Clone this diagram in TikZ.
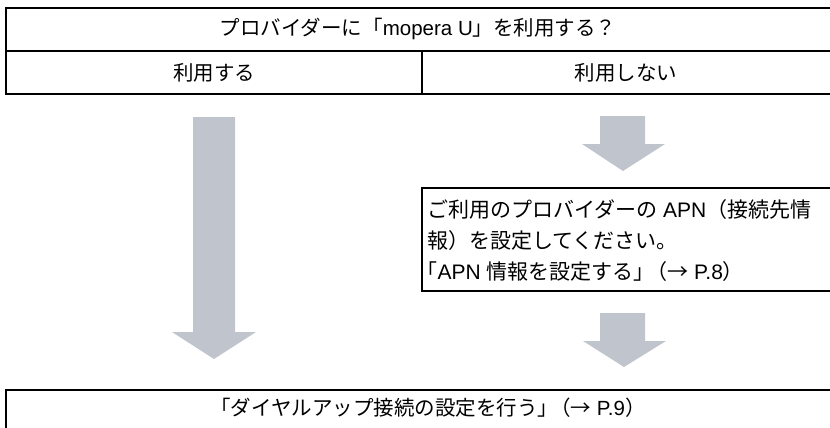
\documentclass[tikz,border=0pt]{standalone}
\usepackage{fontspec}
\setmainfont{Liberation Sans}
\newfontfamily\jpfont{Noto Sans CJK JP}
\definecolor{arrowgray}{RGB}{192,196,204}

\begin{document}
\begin{tikzpicture}[x=1pt, y=-1pt,
    frame/.style={line width=1.7pt},
    cell/.style={font=\fontsize{20.5}{24}\selectfont, inner sep=0pt}]
      \useasboundingbox (0, 0) rectangle (830, 428);

      % Block arrows
      \fill [arrowgray] (193, 117) -- (235, 117) -- (235, 332) -- (256, 332) -- (214, 359) -- (172, 332) -- (193, 332) -- cycle;
      \fill [arrowgray] (600, 116) -- (645, 116) -- (645, 144) -- (665, 144) -- (623, 171) -- (582, 144) -- (600, 144) -- cycle;
      \fill [arrowgray] (600, 313) -- (645, 313) -- (645, 341) -- (666, 341) -- (624, 367) -- (583, 341) -- (600, 341) -- cycle;

      % Table
      \draw [frame] (6, 8) rectangle (836, 94);
      \draw [frame] (6, 51) -- (836, 51);
      \draw [frame] (422, 51) -- (422, 94);
      \node [cell] (ask) at (418, 29) {{\jpfont プロバイダーに「}mopera U{\jpfont 」を利用する？}};
      \node [cell] (use) at (214, 73) {\jpfont 利用する};
      \node [cell] (nouse) at (626, 73) {\jpfont 利用しない};

      % APN box
      \draw [frame] (422, 188) rectangle (836, 291);
      \node [anchor=north west, align=left, inner sep=0pt, font=\fontsize{21}{31}\selectfont] (apn) at (427, 199.5)
        {{\jpfont ご利用のプロバイダーの} APN{\jpfont （接続先情}\\
         {\jpfont 報）を設定してください。}\\
         \hspace*{-0.5em}{\jpfont 「}APN {\jpfont 情報を設定する」\hspace{-0.4em}（→} P.8{\jpfont ）}};

      % Result
      \draw [frame] (6, 390) rectangle (836, 440);
      \node [cell] (dial) at (428, 408) {{\jpfont 「ダイヤルアップ接続の設定を行う」\hspace{-0.4em}（→} P.9{\jpfont ）}};
    \end{tikzpicture}
\end{document}
